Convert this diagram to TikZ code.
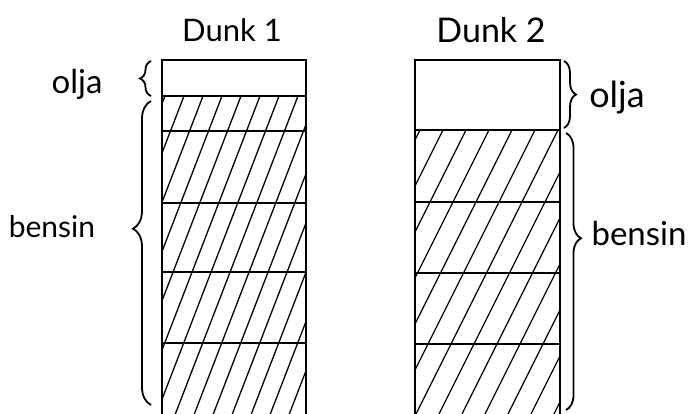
\documentclass[tikz,border=0pt]{standalone}
\usepackage{fontspec}
\setmainfont{Lato}
\usetikzlibrary{decorations.pathreplacing, positioning}

\begin{document}
\begin{tikzpicture}[x=1pt, y=-1pt,
  lbl/.style={inner sep=0pt, font=\fontsize{#1}{#1}\selectfont},
  wall/.style={line width=2pt},
  hatch/.style={line width=1.3pt},
  brc/.style={decorate, line width=1.8pt, decoration={brace, amplitude=#1}}
]
  \useasboundingbox (0,0) rectangle (694,413);

  % Dunk 1
  \begin{scope}
    \clip (162,96) rectangle (306,420);
    \foreach \x in {40,59,...,320} \draw[hatch] (\x,420) -- ++(125,-324);
  \end{scope}
  \draw[wall] (162,60) rectangle (306,420);
  \foreach \y in {96,131,203,272,343} \draw[wall] (162,\y) -- (306,\y);

  % Dunk 2
  \begin{scope}
    \clip (415,130) rectangle (560,420);
    \foreach \x in {275,298,...,560} \draw[hatch] (\x,420) -- ++(145,-290);
  \end{scope}
  \draw[wall] (415,60) rectangle (560,420);
  \foreach \y in {130,202,273,344} \draw[wall] (415,\y) -- (560,\y);

  \node[lbl=31] (dunk1) at (232,30) {Dunk 1};
  \node[lbl=34] (dunk2) at (491,30) {Dunk 2};
  \node[lbl=33] (olja1) at (77,84) {olja};
  \node[lbl=30] (bensin1) at (52,227) {bensin};
  \node[lbl=36] (olja2) at (617,98) {olja};
  \node[lbl=33] (bensin2) at (639,233) {bensin};

  \coordinate (o1a) at (151,96);
  \coordinate (o1b) at (151,61);
  \coordinate (b1a) at (151,405);
  \coordinate (b1b) at (151,101);
  \coordinate (o2a) at (564,61);
  \coordinate (o2b) at (564,128);
  \coordinate (b2a) at (566,133);
  \coordinate (b2b) at (566,410);

  \draw[brc=11] (o1a) -- (o1b);
  \draw[brc=18, decoration={aspect=0.58}] (b1a) -- (b1b);
  \draw[brc=12] (o2a) -- (o2b);
  \draw[brc=15, decoration={aspect=0.38}] (b2a) -- (b2b);
\end{tikzpicture}
\end{document}
